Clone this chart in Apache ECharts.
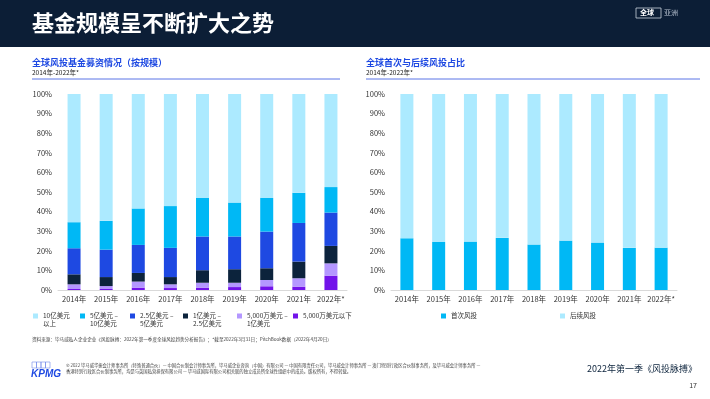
<!DOCTYPE html>
<html>
<head>
<meta charset="utf-8">
<script src="https://cdn.jsdelivr.net/npm/echarts@6/dist/echarts.min.js"></script>
<style>
  html, body { margin: 0; padding: 0; background: #fff; }
  #main { width: 710px; height: 399px; }
</style>
</head>
<body>
<div id="main"></div>
<script>
// categories
const years = ['2014年', '2015年', '2016年', '2017年', '2018年', '2019年', '2020年', '2021年', '2022年*'];
const yTicks = ['0%', '10%', '20%', '30%', '40%', '50%', '60%', '70%', '80%', '90%', '100%'];

// left chart: share of VC fund raising by fund size (%), bottom to top
const under50m   = [0.5, 0.5, 1.2, 1.0, 1.2, 1.5, 1.9, 1.7, 7.3];
const m50to100m  = [2.4, 1.5, 3.1, 1.9, 2.5, 2.2, 3.2, 4.3, 6.3];
const m100to250m = [5.1, 4.6, 4.4, 3.7, 6.4, 6.9, 6.0, 8.5, 8.9];
const m250to500m = [13.3, 14.0, 14.3, 14.9, 17.2, 16.7, 18.7, 19.7, 17.0];
const m500to1b   = [13.3, 14.7, 18.6, 21.3, 19.7, 17.3, 17.2, 15.4, 13.0];
const over1b     = [65.4, 64.7, 58.4, 57.2, 53.0, 55.4, 53.0, 50.4, 47.5];

// right chart: first vs follow-on financing (%)
const firstRound  = [26.4, 24.5, 24.7, 26.6, 23.2, 25.2, 24.2, 21.5, 21.6];
const followRound = [73.6, 75.5, 75.3, 73.4, 76.8, 74.8, 75.8, 78.5, 78.4];

const FONT = '"Noto Sans CJK SC", "Noto Sans", sans-serif';
const chart = echarts.init(document.getElementById('main'));

const sizeNames = ['10亿美元以上', '5亿美元 – 10亿美元', '2.5亿美元 – 5亿美元', '1亿美元 – 2.5亿美元', '5,000万美元 – 1亿美元', '5,000万美元以下'];
const sizeLabels = ['10亿美元\n以上', '5亿美元 –\n10亿美元', '2.5亿美元 –\n5亿美元', '1亿美元 –\n2.5亿美元', '5,000万美元 –\n1亿美元', '5,000万美元以下'];
const sizeLegendX = [33, 80, 130, 183, 237, 293];

// square sitting at the top of a tall box, so it lines up with the first text line
const TOP_SQUARE = 'path://M0,0H5V5H0Z M0,12.95H0.02V13H0Z';

function legendItem(name, label, left) {
  const twoLines = label.indexOf('\n') >= 0;
  return {
    data: [name],
    left: left,
    top: 312,
    icon: twoLines ? TOP_SQUARE : 'rect',
    itemWidth: 5,
    itemHeight: twoLines ? 13 : 5,
    itemGap: 0,
    padding: 0,
    selectedMode: false,
    formatter: () => label,
    textStyle: { fontSize: 6.5, color: '#333', fontFamily: FONT, lineHeight: 8 }
  };
}

const legends = sizeNames.map((n, i) => legendItem(n, sizeLabels[i], sizeLegendX[i]));
legends.push(legendItem('首次风投', '首次风投', 441));
legends.push(legendItem('后续风投', '后续风投', 560));

function axisPair(gi) {
  return {
    x: {
      type: 'category', gridIndex: gi, data: years,
      axisLine: { lineStyle: { color: '#d9d9d9' } },
      axisTick: { show: false },
      axisLabel: { fontSize: 7.5, color: '#333', fontFamily: FONT, margin: 5, interval: 0 }
    },
    y: {
      type: 'value', gridIndex: gi, min: 0, max: 100, interval: 10,
      splitLine: { show: false },
      axisLine: { show: false },
      axisTick: { show: false },
      axisLabel: { fontSize: 7.5, color: '#333', fontFamily: FONT, margin: 6,
        formatter: v => yTicks[Math.round(v / 10)] }
    }
  };
}
const a0 = axisPair(0), a1 = axisPair(1);

function bar(name, data, color, gi, stack) {
  return {
    name: name, type: 'bar', stack: stack, xAxisIndex: gi, yAxisIndex: gi,
    data: data, barWidth: 13, itemStyle: { color: color }
  };
}

chart.setOption({
  animation: false,
  textStyle: { fontFamily: FONT },
  grid: [
    { left: 58, right: 363, top: 94, bottom: 109 },
    { left: 391, right: 33, top: 94, bottom: 109 }
  ],
  xAxis: [a0.x, a1.x],
  yAxis: [a0.y, a1.y],
  legend: legends,
  series: [
    bar('5,000万美元以下', under50m, '#7213EA', 0, 'a'),
    bar('5,000万美元 – 1亿美元', m50to100m, '#B497FF', 0, 'a'),
    bar('1亿美元 – 2.5亿美元', m100to250m, '#0C233C', 0, 'a'),
    bar('2.5亿美元 – 5亿美元', m250to500m, '#1E49E2', 0, 'a'),
    bar('5亿美元 – 10亿美元', m500to1b, '#00B8F5', 0, 'a'),
    bar('10亿美元以上', over1b, '#ACEAFF', 0, 'a'),
    bar('首次风投', firstRound, '#00B8F5', 1, 'b'),
    bar('后续风投', followRound, '#ACEAFF', 1, 'b')
  ],
  graphic: [
    // header band
    { type: 'rect', shape: { x: 0, y: 0, width: 710, height: 47 }, style: { fill: '#0C1E36' } },
    { type: 'text', left: 32, top: 12, style: { text: '基金规模呈不断扩大之势', fill: '#fff', font: 'bold 22px ' + FONT } },
    { type: 'rect', shape: { x: 636, y: 8, width: 25, height: 10 }, style: { fill: 'none', stroke: '#c8d0dc', lineWidth: 0.8 } },
    { type: 'text', left: 640, top: 8.5, style: { text: '全球', fill: '#fff', font: 'bold 7px ' + FONT } },
    { type: 'text', left: 664, top: 8.5, style: { text: '亚洲', fill: '#b8c2d0', font: '7px ' + FONT } },

    // left sub-heading
    { type: 'text', left: 32, top: 58, style: { text: '全球风投基金募资情况（按规模）', fill: '#1E49E2', font: 'bold 9px ' + FONT } },
    { type: 'text', left: 32, top: 69, style: { text: '2014年-2022年*', fill: '#222', font: '6.5px ' + FONT } },
    { type: 'line', shape: { x1: 32, y1: 79, x2: 340, y2: 79 }, style: { stroke: '#5b74e6', lineWidth: 1 } },

    // right sub-heading
    { type: 'text', left: 366, top: 58, style: { text: '全球首次与后续风投占比', fill: '#1E49E2', font: 'bold 9px ' + FONT } },
    { type: 'text', left: 366, top: 69, style: { text: '2014年-2022年*', fill: '#222', font: '6.5px ' + FONT } },
    { type: 'line', shape: { x1: 366, y1: 79, x2: 700, y2: 79 }, style: { stroke: '#5b74e6', lineWidth: 1 } },

    // source
    { type: 'text', left: 32, top: 337, style: { text: '资料来源：毕马威私人企业企业《风投脉搏：2022年第一季度全球风投趋势分析报告》；*截至2022年3月31日；PitchBook数据（2022年4月20日）', fill: '#444', font: '4.6px ' + FONT } },

    // KPMG logo
    { type: 'rect', shape: { x: 32, y: 362, width: 4.5, height: 6 }, style: { fill: 'none', stroke: '#6f86ea', lineWidth: 0.6 } },
    { type: 'rect', shape: { x: 36.5, y: 362, width: 4.5, height: 6 }, style: { fill: 'none', stroke: '#6f86ea', lineWidth: 0.6 } },
    { type: 'rect', shape: { x: 41, y: 362, width: 4.5, height: 6 }, style: { fill: 'none', stroke: '#6f86ea', lineWidth: 0.6 } },
    { type: 'rect', shape: { x: 45.5, y: 362, width: 4.5, height: 6 }, style: { fill: 'none', stroke: '#6f86ea', lineWidth: 0.6 } },
    { type: 'text', left: 31, top: 369, style: { text: 'KPMG', fill: '#1E49E2', font: 'italic bold 10px "Liberation Sans", sans-serif' } },

    // copyright
    { type: 'text', left: 66, top: 363, style: { text: '© 2022 毕马威华振会计师事务所（特殊普通合伙）— 中国合伙制会计师事务所，毕马威企业咨询（中国）有限公司 — 中国有限责任公司，毕马威会计师事务所 — 澳门特别行政区合伙制事务所，及毕马威会计师事务所 —\n香港特别行政区合伙制事务所，均是与英国私营担保有限公司 — 毕马威国际有限公司相关联的独立成员所全球性组织中的成员。版权所有，不得转载。', fill: '#444', font: '4.3px ' + FONT, lineHeight: 5.5 } },

    // footer right
    { type: 'text', right: 13, top: 364, style: { text: '2022年第一季《风投脉搏》', fill: '#0C233C', font: '9px ' + FONT } },
    { type: 'text', right: 13, top: 382, style: { text: '17', fill: '#333', font: '7px ' + FONT } }
  ]
});
</script>
</body>
</html>
